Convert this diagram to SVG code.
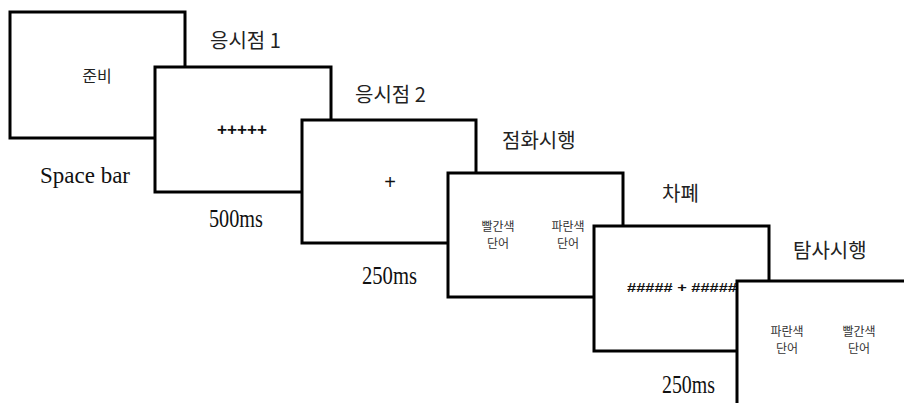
<svg xmlns="http://www.w3.org/2000/svg" width="904" height="403" viewBox="0 0 904 403">
<style>
.box{fill:#fff;stroke:#000;stroke-width:3}
.kr{font-family:"Noto Sans CJK KR","Noto Sans",sans-serif;fill:#222}
.lab{font-size:20px}
.word{font-size:12px;fill:#333;text-anchor:middle}
.ms{font-family:"Liberation Serif",serif;font-size:25px;fill:#111}
.sym{font-family:"Liberation Sans",sans-serif;font-weight:bold;fill:#111;text-anchor:middle}
</style>
<rect width="904" height="403" fill="#fff"/>
<g id="ready">
<rect class="box" x="10" y="12" width="175" height="126"/>
<text class="kr" x="97" y="82" font-size="16" text-anchor="middle">준비</text>
<text x="40" y="183" font-family="Liberation Serif,serif" font-size="23" fill="#111" textLength="90" lengthAdjust="spacingAndGlyphs">Space bar</text>
</g>
<g id="fixation1">
<rect class="box" x="155" y="67" width="176" height="125"/>
<text class="kr lab" x="210" y="48">응시점 1</text>
<text class="sym" x="242" y="135" font-size="16" textLength="50" lengthAdjust="spacingAndGlyphs">+++++</text>
<text class="ms" x="209" y="227" textLength="54" lengthAdjust="spacingAndGlyphs">500ms</text>
</g>
<g id="fixation2">
<rect class="box" x="302" y="120" width="174" height="123"/>
<text class="kr lab" x="355" y="102">응시점 2</text>
<text x="390" y="189" font-family="Liberation Sans,sans-serif" font-size="20" fill="#111" text-anchor="middle">+</text>
<text class="ms" x="362" y="284" textLength="55" lengthAdjust="spacingAndGlyphs">250ms</text>
</g>
<g id="prime">
<rect class="box" x="448" y="173" width="175" height="124"/>
<text class="kr lab" x="502" y="148" font-size="19">점화시행</text>
<text class="kr word" x="498" y="231">빨간색</text>
<text class="kr word" x="498" y="248">단어</text>
<text class="kr word" x="568" y="231">파란색</text>
<text class="kr word" x="568" y="248">단어</text>
</g>
<g id="mask">
<rect class="box" x="594" y="226" width="175" height="125"/>
<text class="kr lab" x="662" y="201" font-size="19">차폐</text>
<text class="sym" x="682" y="292" font-size="13" textLength="110" lengthAdjust="spacingAndGlyphs">##### + #####</text>
<text class="ms" x="662" y="393" textLength="53" lengthAdjust="spacingAndGlyphs">250ms</text>
</g>
<g id="probe">
<rect class="box" x="737" y="281" width="175" height="125"/>
<text class="kr lab" x="793" y="258" font-size="19">탐사시행</text>
<text class="kr word" x="787" y="336">파란색</text>
<text class="kr word" x="787" y="353">단어</text>
<text class="kr word" x="859" y="336">빨간색</text>
<text class="kr word" x="859" y="353">단어</text>
</g>
</svg>
